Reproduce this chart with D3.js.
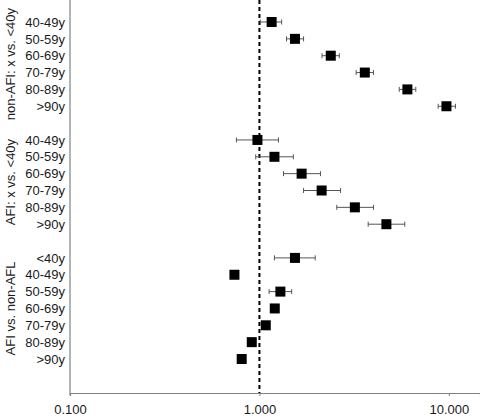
<html>
<head>
<script src="https://d3js.org/d3.v7.min.js"></script>
<style>
  body { margin: 0; background: #fff; }
  text { font-family: "Liberation Sans", Arial, sans-serif; font-size: 13px; fill: #1a1a1a; }
</style>
</head>
<body>
<script>
// groups of rows, top to bottom
var groups = ["non-AFI: x vs. <40y", "AFI: x vs. <40y", "AFI vs. non-AFL"];
var ageLabels1 = ["40-49y", "50-59y", "60-69y", "70-79y", "80-89y", ">90y"];
var ageLabels2 = ["40-49y", "50-59y", "60-69y", "70-79y", "80-89y", ">90y"];
var ageLabels3 = ["<40y", "40-49y", "50-59y", "60-69y", "70-79y", "80-89y", ">90y"];

// estimates and confidence limits (null = no bar drawn)
var est1 = [1.16, 1.54, 2.38, 3.60, 6.04, 9.71];
var lo1  = [1.01, 1.39, 2.14, 3.24, 5.47, 8.78];
var hi1  = [1.31, 1.71, 2.64, 4.00, 6.69, 10.83];

var est2 = [0.976, 1.20, 1.67, 2.13, 3.19, 4.68];
var lo2  = [0.756, 0.956, 1.34, 1.71, 2.56, 3.75];
var hi2  = [1.26, 1.51, 2.10, 2.68, 4.00, 5.85];

var est3 = [1.54, 0.738, 1.29, 1.205, 1.08, 0.911, 0.806];
var lo3  = [1.20, null, 1.125, null, null, null, null];
var hi3  = [1.97, null, 1.48, null, null, null, null];

var tickValues = [0.1, 1, 10];

var width = 480, height = 419;
var rows = [];
var slots = [];
[[ageLabels1, est1, lo1, hi1], [ageLabels2, est2, lo2, hi2], [ageLabels3, est3, lo3, hi3]].forEach(function(g, gi) {
  if (gi > 0) slots.push("gap" + gi);
  g[0].forEach(function(lab, i) {
    var key = gi + "-" + i;
    slots.push(key);
    rows.push({ key: key, group: gi, label: lab, est: g[1][i], lo: g[2][i], hi: g[3][i] });
  });
});

var svg = d3.select("body").append("svg")
    .attr("width", width)
    .attr("height", height);

var x = d3.scaleLog().domain([0.1, 14.6]).range([70, 480]);
var y = d3.scalePoint().domain(slots).range([22, 359]);

// axes
svg.append("line")
    .attr("x1", 70).attr("x2", 70)
    .attr("y1", 0).attr("y2", 395)
    .attr("stroke", "#808080").attr("stroke-width", 1.2);

var xAxis = svg.append("g")
    .attr("transform", "translate(0,393)")
    .call(d3.axisBottom(x).tickValues(tickValues).tickFormat(d3.format(".3f")).tickSize(3).tickPadding(9));
xAxis.select(".domain").attr("stroke", "#808080").attr("stroke-width", 1.2);
xAxis.selectAll(".tick line").attr("stroke", "#808080");
xAxis.selectAll("text").style("font-size", "13px").attr("fill", "#1a1a1a");

// reference line at 1
svg.append("line")
    .attr("x1", x(1)).attr("x2", x(1))
    .attr("y1", 0).attr("y2", 393)
    .attr("stroke", "#000")
    .attr("stroke-width", 2)
    .attr("stroke-dasharray", "4,3");

// error bars
var bars = rows.filter(function(d) { return d.lo != null; });
svg.selectAll(".ci").data(bars).enter().append("line")
    .attr("x1", function(d) { return x(d.lo); })
    .attr("x2", function(d) { return x(d.hi); })
    .attr("y1", function(d) { return y(d.key); })
    .attr("y2", function(d) { return y(d.key); })
    .attr("stroke", "#555").attr("stroke-width", 1);
svg.selectAll(".capl").data(bars).enter().append("line")
    .attr("x1", function(d) { return x(d.lo); })
    .attr("x2", function(d) { return x(d.lo); })
    .attr("y1", function(d) { return y(d.key) - 2.5; })
    .attr("y2", function(d) { return y(d.key) + 2.5; })
    .attr("stroke", "#555").attr("stroke-width", 1);
svg.selectAll(".caph").data(bars).enter().append("line")
    .attr("x1", function(d) { return x(d.hi); })
    .attr("x2", function(d) { return x(d.hi); })
    .attr("y1", function(d) { return y(d.key) - 2.5; })
    .attr("y2", function(d) { return y(d.key) + 2.5; })
    .attr("stroke", "#555").attr("stroke-width", 1);

// point estimates
var s = 10;
svg.selectAll(".pt").data(rows).enter().append("rect")
    .attr("x", function(d) { return x(d.est) - s / 2; })
    .attr("y", function(d) { return y(d.key) - s / 2; })
    .attr("width", s).attr("height", s)
    .attr("fill", "#000");

// row labels
svg.selectAll(".lab").data(rows).enter().append("text")
    .attr("x", 65)
    .attr("y", function(d) { return y(d.key); })
    .attr("dy", "0.36em")
    .attr("text-anchor", "end")
    .text(function(d) { return d.label; });

// group labels
groups.forEach(function(name, gi) {
  var ys = rows.filter(function(d) { return d.group === gi; }).map(function(d) { return y(d.key); });
  var cy = (d3.min(ys) + d3.max(ys)) / 2;
  svg.append("text")
      .attr("transform", "translate(15," + cy + ") rotate(-90)")
      .attr("text-anchor", "middle")
      .text(name);
});
</script>
</body>
</html>
